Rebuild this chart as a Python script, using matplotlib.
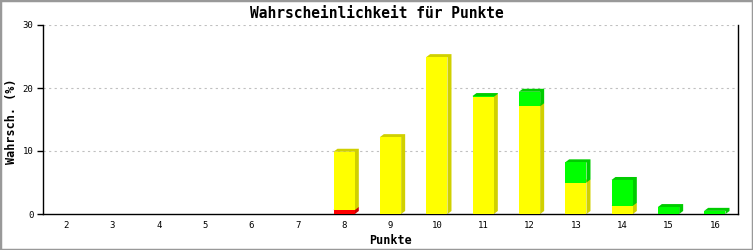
import matplotlib
matplotlib.use("Agg")
import numpy as np
from matplotlib import pyplot as plt
from matplotlib.patches import Polygon, Rectangle

# Punkte (categories) and stacked shares in %
punkte = [2, 3, 4, 5, 6, 7, 8, 9, 10, 11, 12, 13, 14, 15, 16]
rot = [0, 0, 0, 0, 0, 0, 0.63, 0, 0, 0, 0, 0, 0, 0, 0]
gelb = [0, 0, 0, 0, 0, 0, 9.25, 12.2, 24.9, 18.6, 17.1, 5.0, 1.3, 0, 0]
gruen = [0, 0, 0, 0, 0, 0, 0, 0, 0, 0.12, 2.3, 3.2, 4.1, 1.1, 0.5]
y_ticks = [0, 10, 20, 30]

series = [(rot, "#ff0000", "#cc0000"),
          (gelb, "#ffff00", "#d0d000"),
          (gruen, "#00ff00", "#00cc00")]

fig = plt.figure(figsize=(7.53, 2.50), dpi=100)
ax = fig.add_axes([43 / 753, 36 / 250, 695 / 753, 189 / 250])
ax.set_xlim(1.5, 16.5)
ax.set_ylim(0, 30)

mono = "DejaVu Sans Mono"
width = 0.46
dx, dy = 4, 3  # shadow offset in pixels

# shadows first, then front faces
bottoms = np.zeros(len(punkte))
fronts = []
for vals, col, dark in series:
    vals = np.array(vals, dtype=float)
    for x, b, h in zip(punkte, bottoms, vals):
        if h <= 0:
            continue
        (px0, py0), (px1, py1) = ax.transData.transform([(x - width / 2, b), (x + width / 2, b + h)])
        pts = [(px0, py1), (px0 + dx, py1 + dy), (px1 + dx, py1 + dy),
               (px1 + dx, py0 + dy), (px1, py0), (px1, py1)]
        pts = ax.transData.inverted().transform(pts)
        ax.add_patch(Polygon(pts, closed=True, facecolor=dark, edgecolor="none", zorder=2))
        fronts.append((x, b, h, col))
    bottoms = bottoms + vals

for x, b, h, col in fronts:
    ax.add_patch(Rectangle((x - width / 2, b), width, h, facecolor=col, edgecolor="none", zorder=3))

for t in y_ticks[1:]:
    ax.axhline(t, color="#c0c0c0", lw=0.8, ls=(0, (2, 3)), zorder=1)

ax.spines["top"].set_visible(False)
for s in ["left", "bottom", "right"]:
    ax.spines[s].set_linewidth(1.0)
    ax.spines[s].set_color("black")

ax.set_xticks(punkte)
ax.set_xticklabels([str(p) for p in punkte], fontsize=6.5, family=mono)
ax.tick_params(axis="x", length=0, pad=5)
ax.set_yticks(y_ticks)
ax.set_yticklabels([str(t) for t in y_ticks], fontsize=6.5, family=mono)
ax.tick_params(axis="y", length=4, width=1.0, pad=3)

ax.set_xlabel("Punkte", fontsize=8.5, family=mono, fontweight="bold", labelpad=3)
fig.text(12 / 753, 1 - 121 / 250, "Wahrsch. (%)", rotation=90, ha="center", va="center",
         fontsize=8.5, family=mono, fontweight="bold")
fig.text(0.5, 1 - 13 / 250, "Wahrscheinlichkeit für Punkte", ha="center", va="center",
         fontsize=10.5, family=mono, fontweight="bold")

fig.patches.append(Rectangle((0, 0), 1, 1, transform=fig.transFigure, fill=False,
                             edgecolor="#999999", linewidth=2.5))

fig.savefig("out.png", dpi=100)
